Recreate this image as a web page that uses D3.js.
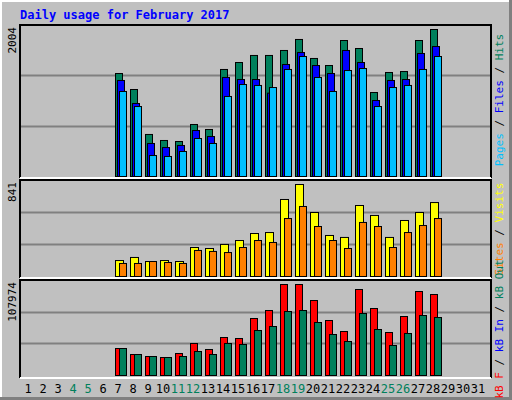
<!DOCTYPE html>
<html><head><meta charset="utf-8">
<script src="https://cdn.jsdelivr.net/npm/d3@7"></script>
<style>body{margin:0;background:#fff}text{font-family:"DejaVu Sans Mono",monospace}</style>
</head><body><div id="chart"></div>
<script>
// data (days 7..28 have traffic)
const days = d3.range(1, 32);
const weekend = [4, 5, 11, 12, 18, 19, 25, 26];
const firstDay = 7;
const hits  = [1404,1186,573,491,477,709,641,1459,1554,1650,1650,1718,1868,1609,1513,1854,1745,1145,1418,1431,1854,2004];
const files = [1309,995,450,395,423,627,545,1350,1322,1322,1136,1527,1690,1513,1404,1718,1554,1036,1309,1322,1677,1772];
const pages = [1159,954,286,273,341,518,450,1091,1254,1241,1213,1459,1636,1350,1159,1445,1472,954,1213,1241,1459,1636];
const visits = [146,174,137,146,137,265,256,293,329,393,402,704,841,585,375,357,649,558,357,512,585,676];
const sites  = [119,119,137,128,119,238,229,219,265,329,311,530,640,457,329,256,494,457,265,402,466,530];
const kbF  = [32036,24917,22544,21357,26103,37968,30849,45087,43901,67631,77123,107974,107974,88988,65258,52206,102041,79496,51020,70004,99667,96107];
const kbIn = [32036,24917,22544,21357,22544,28476,24917,37968,36782,53393,58139,75936,77123,62885,48647,40341,73563,54579,35595,49833,71190,68817];

const W = 512, H = 400, L = 20, R = 491;
const svg = d3.select("#chart").append("svg").attr("width", W).attr("height", H);

svg.append("rect").attr("width", W).attr("height", H).attr("fill", "#c0c0c0");
// 3D frame
svg.append("path").attr("d", "M0,400V0H512").attr("stroke", "#fff").attr("stroke-width", 4).attr("fill", "none");
svg.append("path").attr("d", "M0,399H511V0").attr("stroke", "#808080").attr("stroke-width", 4).attr("fill", "none");

svg.append("text").attr("x", 20).attr("y", 19).attr("fill", "#0000ff")
  .style("font-size", "12px").style("font-weight", "bold").text("Daily usage for February 2017");

const x = d3.scaleLinear().domain([1, 32]).range([L + 5, L + 5 + 31 * 15]);

const panels = [
  {top: 25, bottom: 178, base: 176, peak: 29, max: 2004,
   series: [{v: hits, c: "#00805c", off: 0, w: 8}, {v: files, c: "#0000ff", off: 2, w: 8}, {v: pages, c: "#00c0ff", off: 4, w: 8}],
   label: [["Pages", "#00c0ff"], [" / ", "#000"], ["Files", "#0000ff"], [" / ", "#000"], ["Hits", "#00805c"]], ly: 100},
  {top: 180, bottom: 278, base: 276, peak: 184, max: 841,
   series: [{v: visits, c: "#ffff00", off: 0, w: 9}, {v: sites, c: "#ff8000", off: 4, w: 8}],
   label: [["Sites", "#ff8000"], [" / ", "#000"], ["Visits", "#ffff00"]], ly: 229},
  {top: 280, bottom: 378, base: 375, peak: 284, max: 107974,
   series: [{v: kbF, c: "#ff0000", off: 0, w: 8}, {v: kbIn, c: "#00805c", off: 4, w: 8}],
   label: [["kB F", "#ff0000"], [" / ", "#000"], ["kB In", "#0000ff"], [" / ", "#000"], ["kB Out", "#00805c"]], ly: 329}
];

panels.forEach(p => {
  const y = d3.scaleLinear().domain([0, p.max]).range([p.base, p.peak]);
  const g = svg.append("g");
  // panel border
  g.append("path").attr("d", `M${L},${p.bottom}V${p.top}H${R}V${p.bottom}`)
    .attr("fill", "none").attr("stroke", "#000").attr("stroke-width", 2);
  g.append("line").attr("x1", L).attr("x2", R).attr("y1", p.bottom).attr("y2", p.bottom)
    .attr("stroke", "#fff").attr("stroke-width", 2);
  const h = p.base - p.top;
  [1, 2].forEach(k => g.append("line").attr("x1", L + 1).attr("x2", R - 1)
    .attr("y1", Math.round(p.top + h * k / 3) + 0.5).attr("y2", Math.round(p.top + h * k / 3) + 0.5)
    .attr("stroke", "#808080").attr("stroke-width", 2));
  p.series.forEach(s => {
    g.selectAll(null).data(s.v).join("rect")
      .attr("x", (d, i) => x(firstDay + i) + s.off + 0.5)
      .attr("y", d => y(d) + 0.5)
      .attr("width", s.w - 1)
      .attr("height", d => p.base - y(d))
      .attr("fill", s.c).attr("stroke", "#000").attr("stroke-width", 1);
  });
  // max label on left
  g.append("text").attr("transform", `translate(16,${p.top + 2}) rotate(-90)`)
    .attr("text-anchor", "end").style("font-size", "11px").text(p.max);
  // legend on right
  const t = g.append("text").attr("transform", `translate(503,${p.ly}) rotate(-90)`)
    .attr("text-anchor", "middle").style("font-size", "11px");
  p.label.forEach(([s, c]) => t.append("tspan").attr("fill", c).text(s));
});

// day labels
svg.selectAll("text.day").data(days).join("text").attr("class", "day")
  .attr("x", d => x(d) + 3).attr("y", 393).attr("text-anchor", "middle")
  .style("font-size", "12px")
  .attr("fill", d => weekend.includes(d) ? "#00805c" : "#000").text(d => d);
</script></body></html>
